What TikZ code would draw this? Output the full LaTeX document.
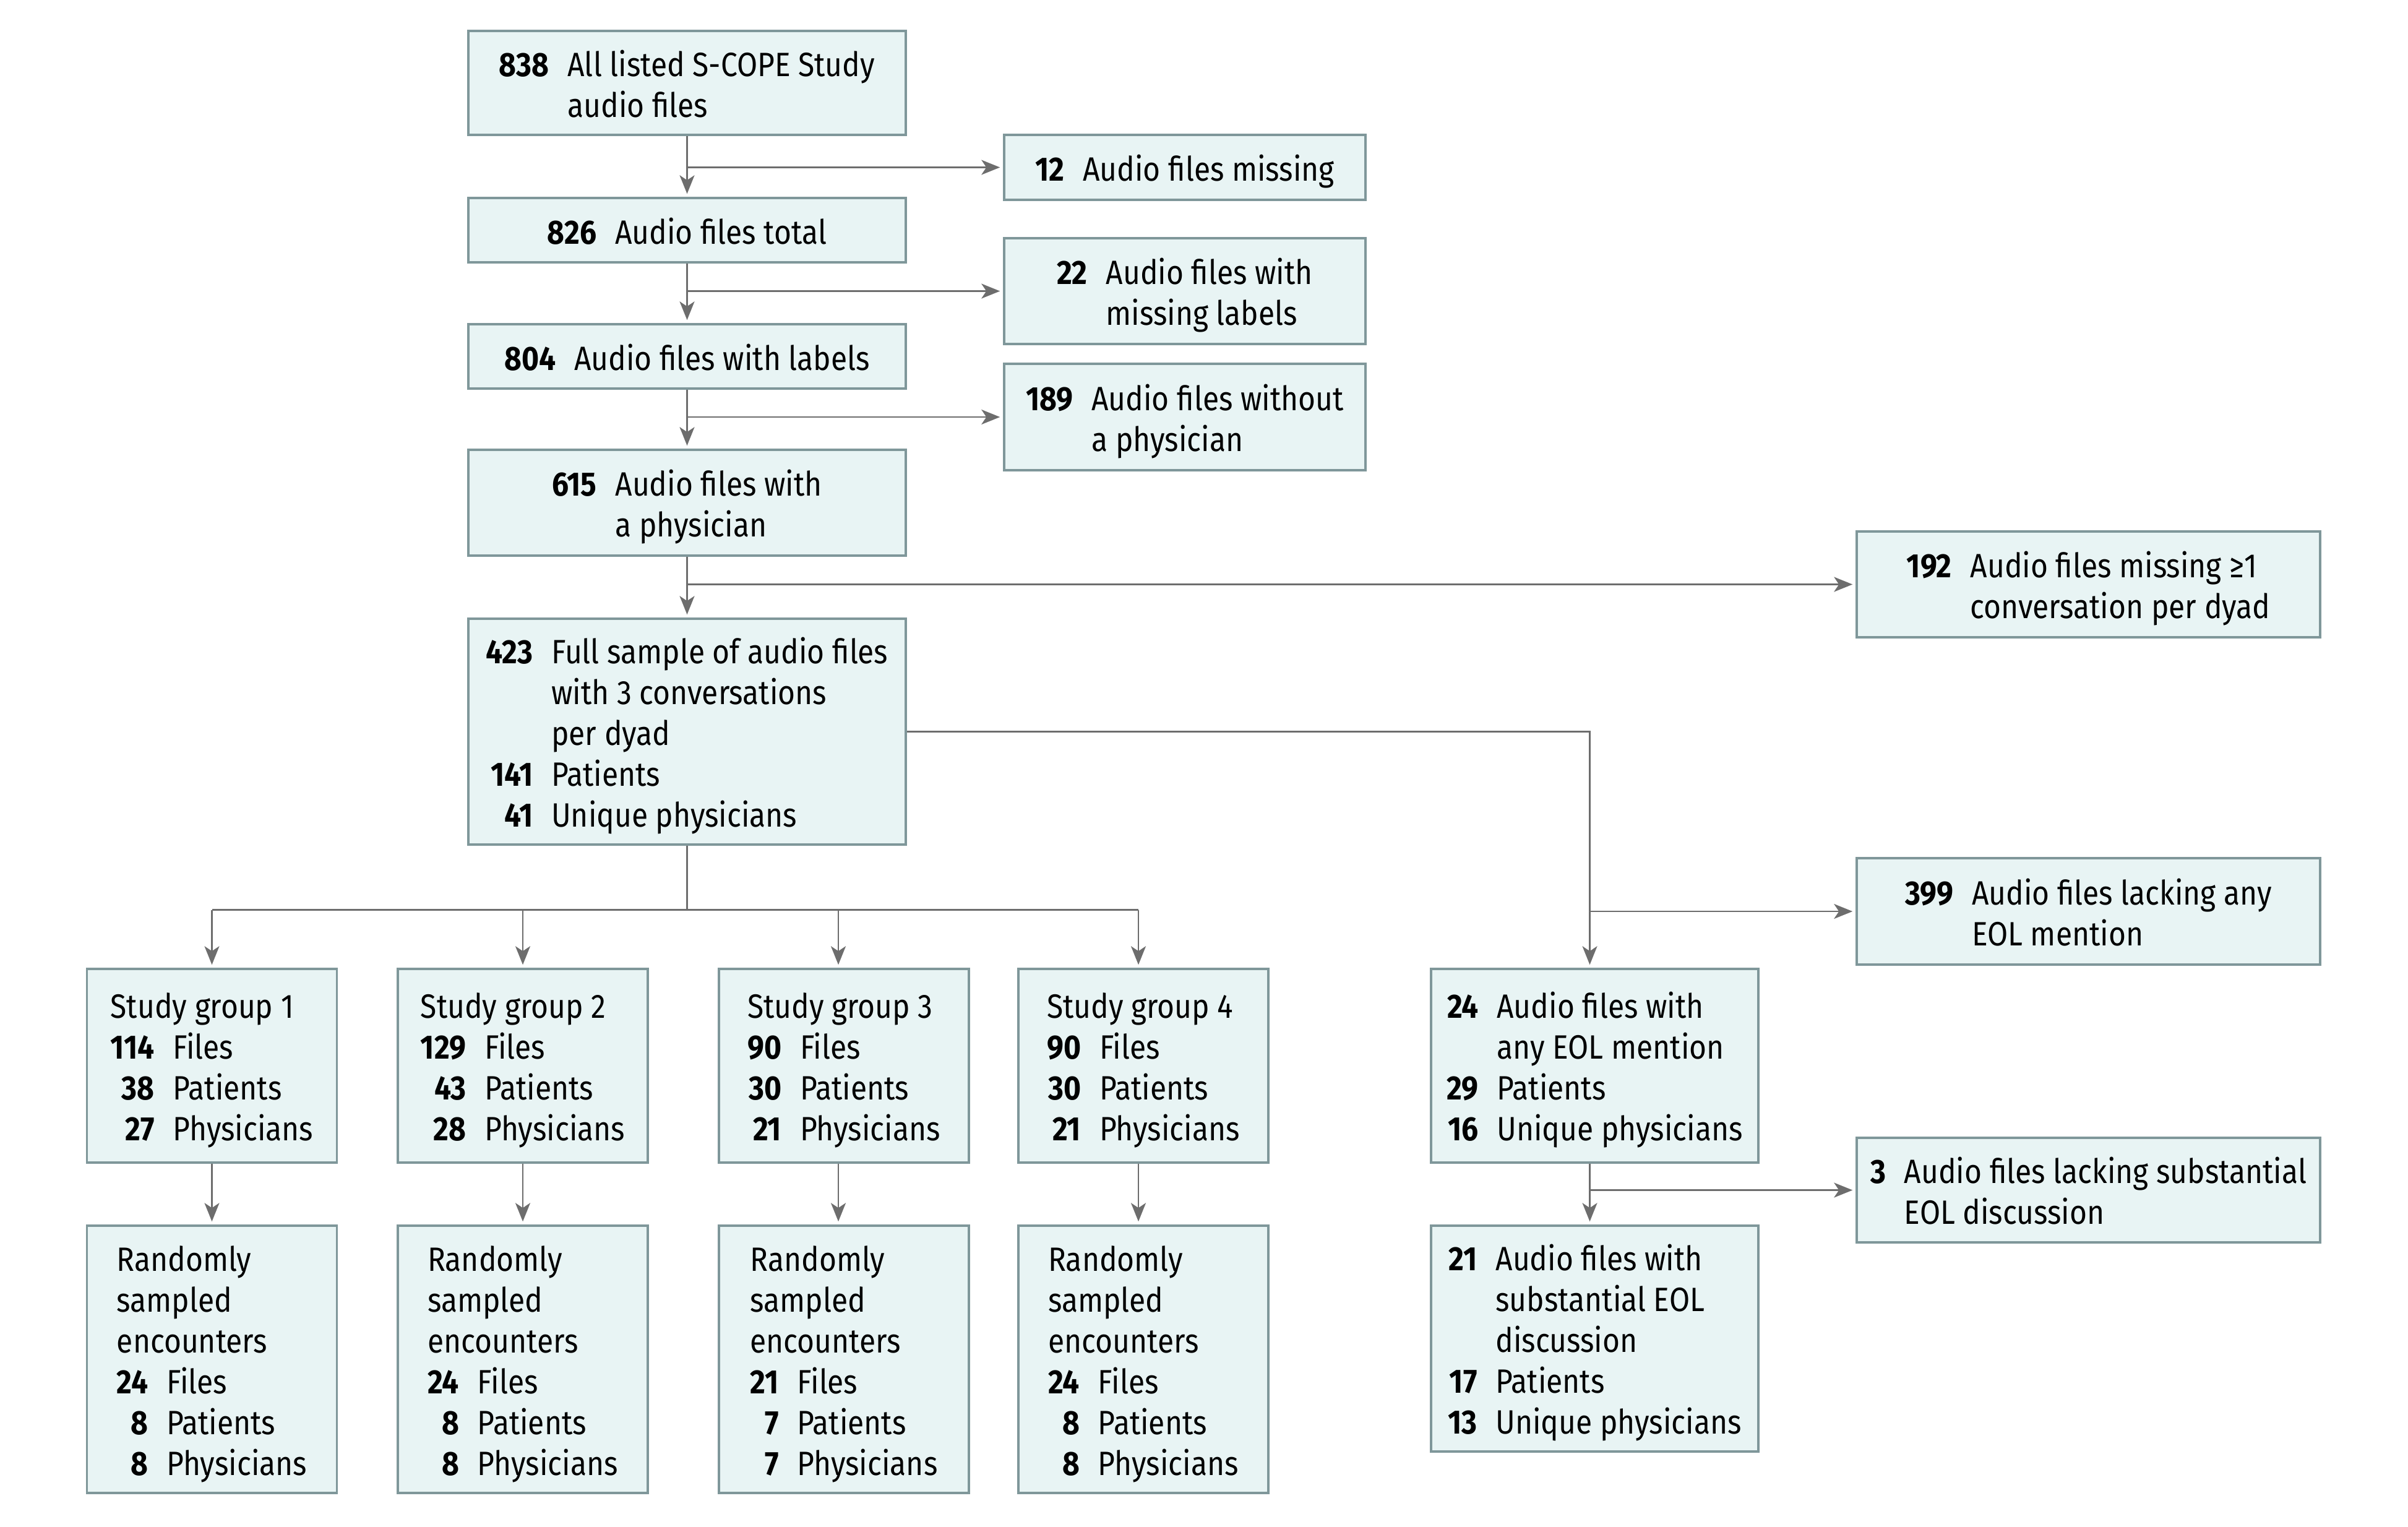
\documentclass[tikz,border=0pt]{standalone}
\usepackage{fontspec}
\setmainfont{Fira Sans}[FakeStretch=0.88]
\usetikzlibrary{arrows.meta,calc}
\definecolor{boxfill}{HTML}{E8F4F4}
\definecolor{boxline}{HTML}{7F979A}
\definecolor{arrgray}{HTML}{6D6D6D}
\newcommand{\nb}[1]{\textbf{#1}}
\newcommand{\fs}{\fontsize{15.5}{18.8}\selectfont}
\begin{document}
\begin{tikzpicture}[
  box/.style={draw=boxline, fill=boxfill, line width=1pt, inner sep=0pt},
  txt/.style={inner sep=0pt, align=left, font=\fs},
  conn/.style={draw=arrgray, line width=0.8pt},
  arr/.style={conn, -{Stealth[length=0.3cm, width=0.24cm, inset=0.08cm]}, shorten >=0.05cm},
]
\useasboundingbox (0,0) rectangle (38.92,-24.67);
\def\tabs#1{\begin{tabular}{@{}r@{\hspace{0.55em}}l@{}}#1\end{tabular}}
% \bx{name}{x}{y}{w}{h}{content}
\newcommand{\bx}[6]{%
  \node[box, minimum width=#4cm, minimum height=#5cm] (#1) at (#2,#3) {};
  \node[txt] (#1t) at ([yshift=-0.09cm]#1.center) {\tabs{#6}};
}

\bx{b838}{11.105}{-1.34}{7.07}{1.68}{\nb{838} & All listed S-COPE Study\\ & audio files}
\bx{b12}{19.15}{-2.705}{5.84}{1.05}{\nb{12} & Audio files missing}
\bx{b826}{11.105}{-3.72}{7.07}{1.04}{\nb{826} & Audio files total}
\bx{b22}{19.15}{-4.705}{5.84}{1.71}{\nb{22} & Audio files with\\ & missing labels}
\bx{b804}{11.105}{-5.76}{7.07}{1.04}{\nb{804} & Audio files with labels}
\bx{b189}{19.15}{-6.74}{5.84}{1.72}{\nb{189} & Audio files without\\ & a physician}
\bx{b615}{11.105}{-8.125}{7.07}{1.71}{\nb{615} & Audio files with\\ & a physician}
\bx{b192}{33.755}{-9.445}{7.49}{1.71}{\nb{192} & Audio files missing ≥1\\ & conversation per dyad}
\bx{b423}{11.105}{-11.825}{7.07}{3.65}{\nb{423} & Full sample of audio files\\ & with 3 conversations\\ & per dyad\\ \nb{141} & Patients\\ \nb{41} & Unique physicians}
\bx{b399}{33.755}{-14.73}{7.49}{1.72}{\nb{399} & Audio files lacking any\\ & EOL mention}

% study groups
\bx{sg1}{3.425}{-17.225}{4.04}{3.13}{\multicolumn{2}{@{}l@{}}{Study group 1}\\ \nb{114} & Files\\ \nb{38} & Patients\\ \nb{27} & Physicians}
\bx{sg2}{8.45}{-17.225}{4.04}{3.13}{\multicolumn{2}{@{}l@{}}{Study group 2}\\ \nb{129} & Files\\ \nb{43} & Patients\\ \nb{28} & Physicians}
\bx{sg3}{13.64}{-17.225}{4.04}{3.13}{\multicolumn{2}{@{}l@{}}{Study group 3}\\ \nb{90} & Files\\ \nb{30} & Patients\\ \nb{21} & Physicians}
\bx{sg4}{18.48}{-17.225}{4.04}{3.13}{\multicolumn{2}{@{}l@{}}{Study group 4}\\ \nb{90} & Files\\ \nb{30} & Patients\\ \nb{21} & Physicians}

\bx{rs1}{3.425}{-21.97}{4.04}{4.32}{\multicolumn{2}{@{}l@{}}{Randomly}\\ \multicolumn{2}{@{}l@{}}{sampled}\\ \multicolumn{2}{@{}l@{}}{encounters}\\ \nb{24} & Files\\ \nb{8} & Patients\\ \nb{8} & Physicians}
\bx{rs2}{8.45}{-21.97}{4.04}{4.32}{\multicolumn{2}{@{}l@{}}{Randomly}\\ \multicolumn{2}{@{}l@{}}{sampled}\\ \multicolumn{2}{@{}l@{}}{encounters}\\ \nb{24} & Files\\ \nb{8} & Patients\\ \nb{8} & Physicians}
\bx{rs3}{13.64}{-21.97}{4.04}{4.32}{\multicolumn{2}{@{}l@{}}{Randomly}\\ \multicolumn{2}{@{}l@{}}{sampled}\\ \multicolumn{2}{@{}l@{}}{encounters}\\ \nb{21} & Files\\ \nb{7} & Patients\\ \nb{7} & Physicians}
\bx{rs4}{18.48}{-21.97}{4.04}{4.32}{\multicolumn{2}{@{}l@{}}{Randomly}\\ \multicolumn{2}{@{}l@{}}{sampled}\\ \multicolumn{2}{@{}l@{}}{encounters}\\ \nb{24} & Files\\ \nb{8} & Patients\\ \nb{8} & Physicians}

\bx{e24}{25.775}{-17.225}{5.29}{3.13}{\nb{24} & Audio files with\\ & any EOL mention\\ \nb{29} & Patients\\ \nb{16} & Unique physicians}
\bx{b3}{33.755}{-19.235}{7.49}{1.69}{\nb{3} & Audio files lacking substantial\\ & EOL discussion}
\bx{e21}{25.775}{-21.635}{5.29}{3.65}{\nb{21} & Audio files with\\ & substantial EOL\\ & discussion\\ \nb{17} & Patients\\ \nb{13} & Unique physicians}

% trunk
\draw[arr] (b838.south) -- (b826.north);
\draw[arr] (b826.south) -- (b804.north);
\draw[arr] (b804.south) -- (b615.north);
\draw[arr] (b615.south) -- (b423.north);
\draw[arr] (b838.south |- b12.west) -- (b12.west);
\draw[arr] (b826.south |- b22.west) -- (b22.west);
\draw[arr] (b804.south |- b189.west) -- (b189.west);
\draw[arr] (b615.south |- b192.west) -- (b192.west);

% EOL branch
\coordinate (ex) at ([xshift=-0.08cm]e24.north);
\draw[arr] (b423.east) -| (ex);
\draw[arr] (ex |- b399.west) -- (b399.west);
\draw[arr] ([xshift=-0.08cm]e24.south) -- ([xshift=-0.08cm]e21.north);
\draw[arr] ([xshift=-0.08cm]e24.south |- b3.west) -- (b3.west);

% study groups split
\coordinate (c1) at (sg1.north);
\coordinate (c2) at (sg2.north);
\coordinate (c3) at ([xshift=-0.09cm]sg3.north);
\coordinate (c4) at ([xshift=-0.08cm]sg4.north);
\coordinate (split) at ($(b423.south)+(0,-1.04)$);
\draw[conn] (b423.south) -- (split);
\draw[conn] (c1 |- split) -- (c4 |- split);
\foreach \i in {1,2,3,4}{
  \draw[arr] (c\i |- split) -- (c\i);
  \draw[arr] (c\i |- sg\i.south) -- (c\i |- rs\i.north);
}
\end{tikzpicture}
\end{document}
